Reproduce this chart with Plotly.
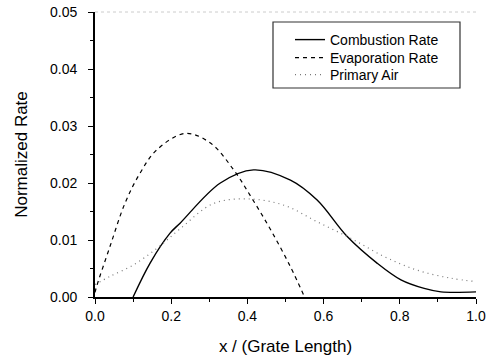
import plotly.graph_objects as go

comb_x = [0.10, 0.145, 0.197, 0.224, 0.329, 0.416, 0.513, 0.583, 0.662, 0.741, 0.803, 0.864, 0.908, 1.0]
comb_y = [0.0, 0.006, 0.0112, 0.013, 0.020, 0.0223, 0.0205, 0.017, 0.0106, 0.0059, 0.003, 0.0015, 0.0009, 0.0009]

evap_x = [0.0, 0.004, 0.039, 0.079, 0.118, 0.162, 0.237, 0.303, 0.364, 0.412, 0.461, 0.513, 0.55]
evap_y = [0.0008, 0.0018, 0.0088, 0.0165, 0.0217, 0.0258, 0.0287, 0.027, 0.0223, 0.0173, 0.0118, 0.0053, 0.0]

air_x = [0.0, 0.039, 0.1, 0.162, 0.224, 0.311, 0.403, 0.496, 0.583, 0.671, 0.759, 0.846, 0.934, 1.0]
air_y = [0.0022, 0.0036, 0.0056, 0.0085, 0.012, 0.0164, 0.0172, 0.0161, 0.0132, 0.0103, 0.0071, 0.0047, 0.0033, 0.0027]

FONT = "Arial, Liberation Sans, sans-serif"

fig = go.Figure()
fig.add_trace(go.Scatter(x=comb_x, y=comb_y, mode="lines", name="Combustion Rate", legend="legend",
                         line=dict(color="black", width=1.4, shape="spline")))
fig.add_trace(go.Scatter(x=evap_x, y=evap_y, mode="lines", name="Evaporation Rate", legend="legend2",
                         line=dict(color="black", width=1.2, dash="4px,4px", shape="spline")))
fig.add_trace(go.Scatter(x=air_x, y=air_y, mode="lines", name="Primary Air", legend="legend3",
                         line=dict(color="#777777", width=1.2, dash="1px,4px", shape="spline")))

axis_common = dict(
    showgrid=False, zeroline=False, showline=True, linecolor="black", linewidth=1.8,
    ticks="outside", ticklen=5, tickwidth=1.3, tickcolor="black", automargin=False,
    tickfont=dict(family=FONT, size=14, color="black"),
)
fig.update_xaxes(range=[0, 1], dtick=0.2, tickformat=".1f",
                 minor=dict(ticks="outside", ticklen=3, dtick=0.1, tickcolor="black"),
                 title=dict(text="x / (Grate Length)", font=dict(family=FONT, size=17, color="black"), standoff=17),
                 **axis_common)
fig.update_yaxes(range=[0, 0.05], dtick=0.01, tickformat=".2f", ticklabelstandoff=8,
                 minor=dict(ticks="outside", ticklen=3, dtick=0.005, tickcolor="black"),
                 title=dict(text="Normalized Rate", font=dict(family=FONT, size=17, color="black"), standoff=18),
                 **axis_common)

fig.add_shape(type="line", xref="paper", yref="paper", x0=0, x1=1, y0=1, y1=1,
              line=dict(color="#cccccc", width=1, dash="dot"))
# legend frame
fig.add_shape(type="rect", xref="paper", yref="paper",
              x0=(273 - 95) / 381, x1=(460 - 95) / 381, y0=(297 - 88) / 285, y1=(297 - 22) / 285,
              line=dict(color="#333333", width=1.2), fillcolor="white", layer="below")

def leg(ypix):
    return dict(x=(290 - 95) / 381, y=(297 - ypix) / 285, xanchor="left", yanchor="middle",
                bgcolor="rgba(0,0,0,0)", borderwidth=0,
                font=dict(family=FONT, size=14, color="black"))

fig.update_layout(
    width=494, height=360,
    margin=dict(l=95, r=18, t=12, b=63),
    paper_bgcolor="white", plot_bgcolor="rgba(0,0,0,0)",
    font=dict(family=FONT, color="black"),
    showlegend=True,
    legend=leg(40), legend2=leg(58), legend3=leg(75),
)

fig.write_html("out.html", config={"displayModeBar": False},
               post_script="document.body.style.margin='0';")
